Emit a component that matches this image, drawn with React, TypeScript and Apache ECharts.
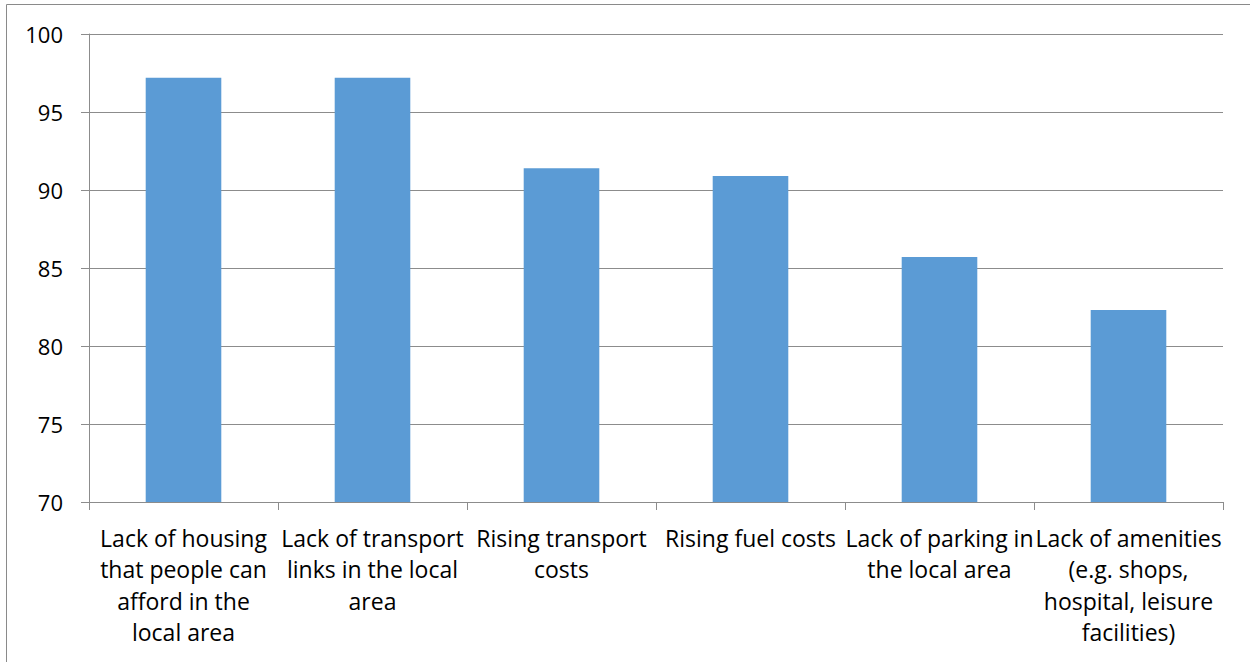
import React, { useEffect, useRef } from "react";
import * as echarts from "echarts";

const categories = [
  "Lack of housing\nthat people can\nafford in the\nlocal area",
  "Lack of transport\nlinks in the local\narea",
  "Rising transport\ncosts",
  "Rising fuel costs",
  "Lack of parking in\nthe local area",
  "Lack of amenities\n(e.g. shops,\nhospital, leisure\nfacilities)",
];
const values = [97.2, 97.2, 91.4, 90.9, 85.7, 82.3];
const yMin = 70;
const yMax = 100;
const yStep = 5;

const FONT = "'Open Sans', Lato, sans-serif";
const GRAY = "#8c8c8c";

export default function App() {
  const ref = useRef<HTMLDivElement>(null);
  useEffect(() => {
    if (!ref.current) return;
    const chart = echarts.init(ref.current, undefined, { renderer: "svg" });
    chart.setOption({
      animation: false,
      backgroundColor: "#ffffff",
      graphic: [
        {
          type: "rect",
          shape: { x: 6.5, y: 4.5, width: 1400, height: 800 },
          style: { fill: "none", stroke: "#8a8a8a", lineWidth: 1 },
          silent: true,
        },
      ],
      grid: { left: 89, right: 27, top: 34, bottom: 160 },
      xAxis: {
        type: "category",
        data: categories,
        axisLine: { lineStyle: { color: GRAY, width: 1 } },
        axisTick: { show: true, length: 8, lineStyle: { color: GRAY } },
        axisLabel: {
          interval: 0,
          color: "#000",
          fontFamily: FONT,
          fontSize: 23,
          lineHeight: 31.5,
          margin: 20,
          align: "center",
        },
      },
      yAxis: {
        type: "value",
        min: yMin,
        max: yMax,
        interval: yStep,
        axisLine: { show: true, lineStyle: { color: GRAY, width: 1 } },
        axisTick: { show: true, length: 8, lineStyle: { color: GRAY } },
        splitLine: { lineStyle: { color: GRAY, width: 1 } },
        axisLabel: {
          color: "#000",
          fontFamily: FONT,
          fontSize: 22,
          margin: 26,
        },
      },
      series: [
        {
          type: "bar",
          data: values,
          barWidth: "40%",
          itemStyle: { color: "#5b9bd5" },
        },
      ],
    });
    return () => chart.dispose();
  }, []);
  return (
    <div
      ref={ref}
      style={{ position: "fixed", left: 0, top: 0, width: 1250, height: 662 }}
    />
  );
}
